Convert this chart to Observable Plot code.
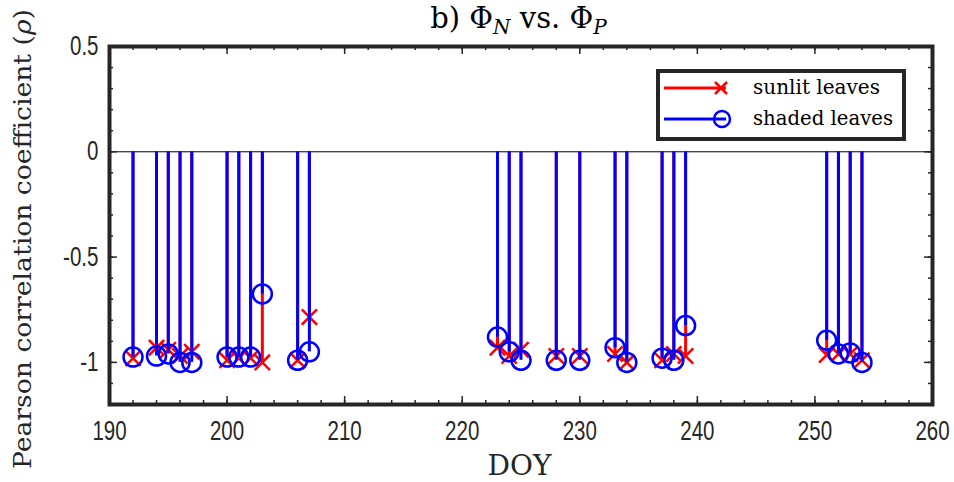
<!DOCTYPE html>
<html>
<head>
<meta charset="utf-8">
<script src="https://cdn.jsdelivr.net/npm/d3@7"></script>
<script src="https://cdn.jsdelivr.net/npm/@observablehq/plot@0.6"></script>
<style>
  html, body { margin: 0; padding: 0; background: #fff; }
  #chart svg { display: block; }
</style>
</head>
<body>
<div id="chart"></div>
<script>
const doy = [192,194,195,196,197,200,201,202,203,206,207,223,224,225,228,230,233,234,237,238,239,251,252,253,254];
const sunlit = [-0.98,-0.93,-0.94,-0.97,-0.95,-0.99,-0.98,-0.98,-1.0,-0.99,-0.785,-0.93,-0.97,-0.94,-0.97,-0.97,-0.96,-1.0,-0.99,-0.96,-0.97,-0.965,-0.96,-0.96,-0.99];
const shaded = [-0.975,-0.97,-0.96,-1.0,-1.0,-0.975,-0.975,-0.975,-0.675,-0.99,-0.95,-0.88,-0.95,-0.99,-0.99,-0.99,-0.93,-1.0,-0.98,-0.99,-0.825,-0.895,-0.96,-0.955,-1.0];
const xTicks = [190,200,210,220,230,240,250,260];
const yTicks = [0.5,0,-0.5,-1];
const seriesNames = ["sunlit leaves","shaded leaves"];

const RED = "#ff0000", BLUE = "#0000ff", AX = "#262626";
const sun = doy.map((d,i)=>({doy:d, v:sunlit[i]}));
const sha = doy.map((d,i)=>({doy:d, v:shaded[i]}));

const xMinor = d3.range(190, 261, 2);
const yMinor = d3.range(-12, 6, 1).map(v=>v/10);
const W = 954, H = 482, mL = 109, mR = 22, mT = 46, mB = 78;
const pxX = 70/(W-mL-mR), pxY = 1.7/(H-mT-mB);
const tickFont = "'Liberation Sans',Arial,sans-serif";

const plot = Plot.plot({
  width: W, height: H,
  marginLeft: mL, marginRight: mR, marginTop: mT, marginBottom: mB,
  style: {background: "#fff", overflow: "visible"},
  x: {domain: [190,260]},
  y: {domain: [-1.2,0.5]},
  marks: [
    Plot.ruleY([0], {stroke: "#000", strokeWidth: 1}),
    Plot.ruleX(sun, {x: "doy", y1: 0, y2: "v", stroke: RED, strokeWidth: 3}),
    Plot.dot(sun, {x: "doy", y: "v", symbol: "times", r: 7, stroke: RED, strokeWidth: 2.5}),
    Plot.ruleX(sha, {x: "doy", y1: 0, y2: "v", stroke: BLUE, strokeWidth: 3}),
    Plot.dot(sha, {x: "doy", y: "v", symbol: "circle", r: 9.5, stroke: BLUE, fill: "none", strokeWidth: 2.5}),
    // inward ticks
    Plot.ruleX(xMinor, {x: d=>d, y1: -1.2, y2: -1.2 + 4*pxY, stroke: AX, strokeWidth: 1.5}),
    Plot.ruleX(xMinor, {x: d=>d, y1: 0.5, y2: 0.5 - 4*pxY, stroke: AX, strokeWidth: 1.5}),
    Plot.ruleX(xTicks, {x: d=>d, y1: -1.2, y2: -1.2 + 8*pxY, stroke: AX, strokeWidth: 1.5}),
    Plot.ruleX(xTicks, {x: d=>d, y1: 0.5, y2: 0.5 - 8*pxY, stroke: AX, strokeWidth: 1.5}),
    Plot.ruleY(yMinor, {y: d=>d, x1: 190, x2: 190 + 4*pxX, stroke: AX, strokeWidth: 1.5}),
    Plot.ruleY(yMinor, {y: d=>d, x1: 260, x2: 260 - 4*pxX, stroke: AX, strokeWidth: 1.5}),
    Plot.ruleY(yTicks, {y: d=>d, x1: 190, x2: 190 + 8*pxX, stroke: AX, strokeWidth: 1.5}),
    Plot.ruleY(yTicks, {y: d=>d, x1: 260, x2: 260 - 8*pxX, stroke: AX, strokeWidth: 1.5}),
    Plot.frame({stroke: AX, strokeWidth: 4}),
    Plot.axisX(xTicks, {tickSize: 0, tickPadding: 16, fontSize: 27, fill: AX, label: null, fontFamily: tickFont}),
    Plot.axisY(yTicks, {tickSize: 0, tickPadding: 11, fontSize: 27, fill: AX, label: null, fontFamily: tickFont, tickFormat: d => String(d)})
  ]
});
document.getElementById("chart").appendChild(plot);

const svg = d3.select(plot);
// condense tick labels horizontally (narrow sans look)
svg.selectAll("g[aria-label='x-axis tick label'] text, g[aria-label='y-axis tick label'] text").each(function() {
  const len = this.getComputedTextLength();
  this.setAttribute("textLength", (len * 0.76).toFixed(1));
  this.setAttribute("lengthAdjust", "spacingAndGlyphs");
});

const serif = "'DejaVu Serif','Liberation Serif',serif";
const cx = mL + (W-mL-mR)/2;

// title
const t = svg.append("text").attr("x", cx - 2).attr("y", 28).attr("text-anchor","middle")
  .attr("font-family", serif).attr("font-size", 29).attr("fill", "#000");
t.append("tspan").text("b) Φ");
t.append("tspan").attr("font-style","italic").attr("font-size",20).attr("dy",6).text("N");
t.append("tspan").attr("dy",-6).text(" vs. Φ");
t.append("tspan").attr("font-style","italic").attr("font-size",20).attr("dy",6).text("P");

// x label
svg.append("text").attr("x", cx - 1).attr("y", 475).attr("text-anchor","middle")
  .attr("font-family", serif).attr("font-size", 28).attr("fill", AX).text("DOY");

// y label
const yl = svg.append("text").attr("transform", `translate(31,239) rotate(-90)`)
  .attr("text-anchor","middle").attr("font-family", serif).attr("font-size", 24).attr("fill", AX)
  .attr("textLength", 460).attr("lengthAdjust", "spacingAndGlyphs");
yl.append("tspan").text("Pearson correlation coefficient (");
yl.append("tspan").attr("font-style","italic").text("ρ");
yl.append("tspan").text(")");

// legend
const lg = svg.append("g");
lg.append("rect").attr("x",658).attr("y",71).attr("width",246).attr("height",68)
  .attr("fill","#fff").attr("stroke",AX).attr("stroke-width",4);
const rows = [{y: 88, c: RED, sym: "x", w: 127}, {y: 119, c: BLUE, sym: "o", w: 140}];
rows.forEach((r,i)=>{
  lg.append("line").attr("x1",664).attr("x2",726).attr("y1",r.y).attr("y2",r.y).attr("stroke",r.c).attr("stroke-width",3);
  if (r.sym === "x") {
    lg.append("path").attr("d",`M${715},${r.y-6}L${727},${r.y+6}M${715},${r.y+6}L${727},${r.y-6}`).attr("stroke",r.c).attr("stroke-width",2.5);
  } else {
    lg.append("circle").attr("cx",722).attr("cy",r.y).attr("r",8).attr("fill","none").attr("stroke",r.c).attr("stroke-width",2.5);
  }
  lg.append("text").attr("x",753).attr("y",r.y+6).attr("text-anchor","start")
    .attr("font-family",serif).attr("font-size",21).attr("fill","#000")
    .attr("textLength", r.w).attr("lengthAdjust","spacingAndGlyphs").text(seriesNames[i]);
});
</script>
</body>
</html>
